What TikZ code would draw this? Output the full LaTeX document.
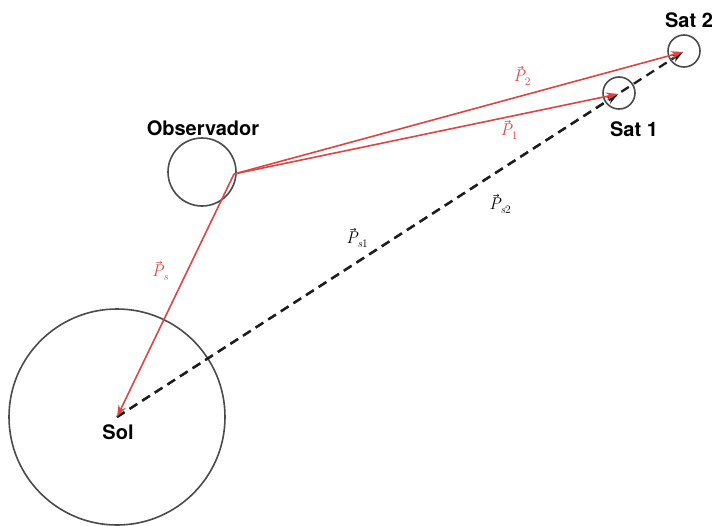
\documentclass[tikz,border=0pt]{standalone}
\usepackage{fontspec}
\setsansfont{TeX Gyre Heros}
\newfontfamily\arrowfont{DejaVu Sans}
\usetikzlibrary{arrows.meta}
\definecolor{vred}{RGB}{222,68,68}
\definecolor{cgray}{RGB}{75,75,75}
\definecolor{dline}{RGB}{30,30,30}
\newcommand{\varr}{\rlap{\raisebox{0.64em}{\hspace{0.22em}{\upshape\arrowfont\fontsize{8}{8}\selectfont →}}}}
\newcommand{\vsub}[1]{\raisebox{-0.28em}{\fontsize{11.5}{12}\selectfont #1}}
\tikzset{
  body/.style={draw=cgray,line width=1.6pt,circle,inner sep=0pt,minimum size=#1},
  lbl/.style={font=\sffamily\bfseries\fontsize{20}{24}\selectfont,text=black},
  mlbl/.style={inner sep=1pt,font=\rmfamily\itshape\fontsize{17}{20}\selectfont},
  redvec/.style={draw=vred,line width=1.6pt,-{Stealth[length=12pt,width=8pt]},shorten >=0pt},
  dvec/.style={draw=dline,line width=2.3pt,dash pattern=on 9pt off 6pt,-{Stealth[length=12pt,width=8pt]}},
}
\begin{document}
\begin{tikzpicture}[x=1pt,y=-1pt]
\useasboundingbox (0,0) rectangle (712,525);
% bodies
\node[body=216pt] (sun) at (117,417) {};
\node[body=68pt] (obsc) at (202,172) {};
\node[body=32pt] (s1c) at (619,93) {};
\node[body=32pt] (s2c) at (684,51) {};
% points
\coordinate (S) at (117,417);
\coordinate (O) at (234,174);
\coordinate (A) at (618,94);
\coordinate (B) at (683,52);
% labels
\node[lbl] (lsol) at (118,432) {Sol};
\node[lbl] (lobs) at (203,128) {Observador};
\node[lbl] (ls1) at (634,129) {Sat 1};
\node[lbl] (ls2) at (689,20) {Sat 2};
% vectors
\draw[dvec] (S) -- (B);
\draw[dvec] (S) -- (A);
\draw[redvec] (O) -- (B);
\draw[redvec] (O) -- (A);
\draw[redvec] (O) -- (S);
% vector labels
\node[mlbl,text=vred] (p2) at (522,76) {\varr P\vsub{\upshape 2}};
\node[mlbl,text=vred] (p1) at (509,130) {\varr P\vsub{\upshape 1}};
\node[mlbl,text=vred] (ps) at (160,271) {\varr P\vsub{s}};
\node[mlbl] (ps1) at (357,238) {\varr P\vsub{s\upshape 1}};
\node[mlbl] (ps2) at (500,204) {\varr P\vsub{s\upshape 2}};
\end{tikzpicture}
\end{document}
